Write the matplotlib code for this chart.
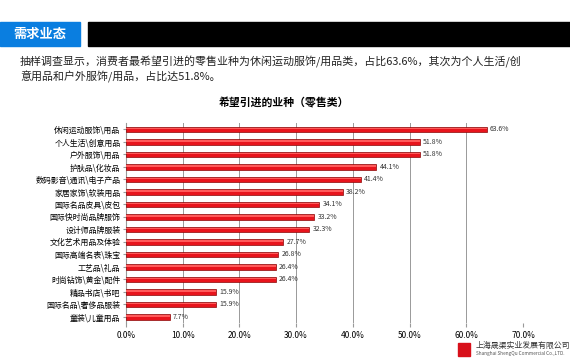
import numpy as np
import matplotlib
matplotlib.use('Agg')
import matplotlib.pyplot as plt
from matplotlib.patches import Rectangle

plt.rcParams['font.family'] = ['Noto Sans CJK SC', 'DejaVu Sans']

#%% Data
categories = ['休闲运动服饰\\用品', '个人生活\\创意用品', '户外服饰\\用品', '护肤品\\化妆品',
              '数码影音\\通讯\\电子产品', '家居家饰\\软装用品', '国际名品皮具\\皮包',
              '国际快时尚品牌服饰', '设计师品牌服装', '文化艺术用品及体验',
              '国际高端名表\\珠宝', '工艺品\\礼品', '时尚钻饰\\黄金\\配件',
              '精品书店\\书吧', '国际名品\\奢侈品服装', '童装\\儿童用品']
values = [63.6, 51.8, 51.8, 44.1, 41.4, 38.2, 34.1, 33.2, 32.3, 27.7, 26.8, 26.4, 26.4, 15.9, 15.9, 7.7]
xticks = [0, 10, 20, 30, 40, 50, 60, 70]

#%% Figure
fig = plt.figure(figsize=(5.7, 3.6), dpi=100)

# header strip
fig.patches.append(Rectangle((0, 1 - 46/360), 80/570, 24/360, transform=fig.transFigure,
                             color='#0a7ee0', zorder=1))
fig.patches.append(Rectangle((88/570, 1 - 46/360), 1 - 88/570, 24/360, transform=fig.transFigure,
                             color='black', zorder=1))
fig.text(13/570, 1 - 34/360, '需求业态', color='white', fontsize=9.5, fontweight='bold',
         va='center', ha='left')

fig.text(20/570, 1 - 62/360, '抽样调查显示，消费者最希望引进的零售业种为休闲运动服饰/用品类，占比63.6%，其次为个人生活/创',
         fontsize=7.9, va='center', ha='left', color='#222222')
fig.text(20/570, 1 - 77/360, '意用品和户外服饰/用品，占比达51.8%。',
         fontsize=7.9, va='center', ha='left', color='#222222')

fig.text(284/570, 1 - 103/360, '希望引进的业种（零售类）', fontsize=7.8, fontweight='bold',
         va='center', ha='center')

#%% Bars
ax = fig.add_axes([126/570, 1 - 323/360, 397/570, 200/360])
y = np.arange(len(categories))
ax.barh(y, values, height=0.44, color='#e8141c', edgecolor='#8a0808', linewidth=0.5, zorder=3)
ax.barh(y - 0.07, values, height=0.1, color='#ff5a5a', linewidth=0, zorder=4)

for yi, v in zip(y, values):
    ax.text(v + 0.6, yi, '%.1f%%' % v, fontsize=5, va='center', ha='left', color='#333333')

ax.set_ylim(len(categories) - 0.5, -0.5)
ax.set_xlim(0, 70)
ax.set_yticks(y)
ax.set_yticklabels(categories, fontsize=5.7)
ax.set_xticks(xticks)
ax.set_xticklabels(['%.1f%%' % t for t in xticks], fontsize=6)
ax.tick_params(axis='y', length=2, color='#999999', pad=2)
ax.tick_params(axis='x', length=3, color='#999999', pad=3)
ax.grid(axis='x', color='#999999', linewidth=0.7, zorder=0)
for s in ['top', 'right', 'bottom']:
    ax.spines[s].set_visible(False)
ax.spines['left'].set_color('#999999')

#%% Logo
fig.patches.append(Rectangle((458/570, 1 - 356/360), 12/570, 13/360, transform=fig.transFigure,
                             color='#d8101a', zorder=1))
fig.text(476/570, 1 - 345/360, '上海晟渠实业发展有限公司', fontsize=5.7, va='center', ha='left', color='#333333')
fig.text(476/570, 1 - 353/360, 'Shanghai ShengQu Commercial Co.,LTD.', fontsize=3.4, va='center', ha='left',
         color='#555555')

fig.savefig('out.png', dpi=100)
